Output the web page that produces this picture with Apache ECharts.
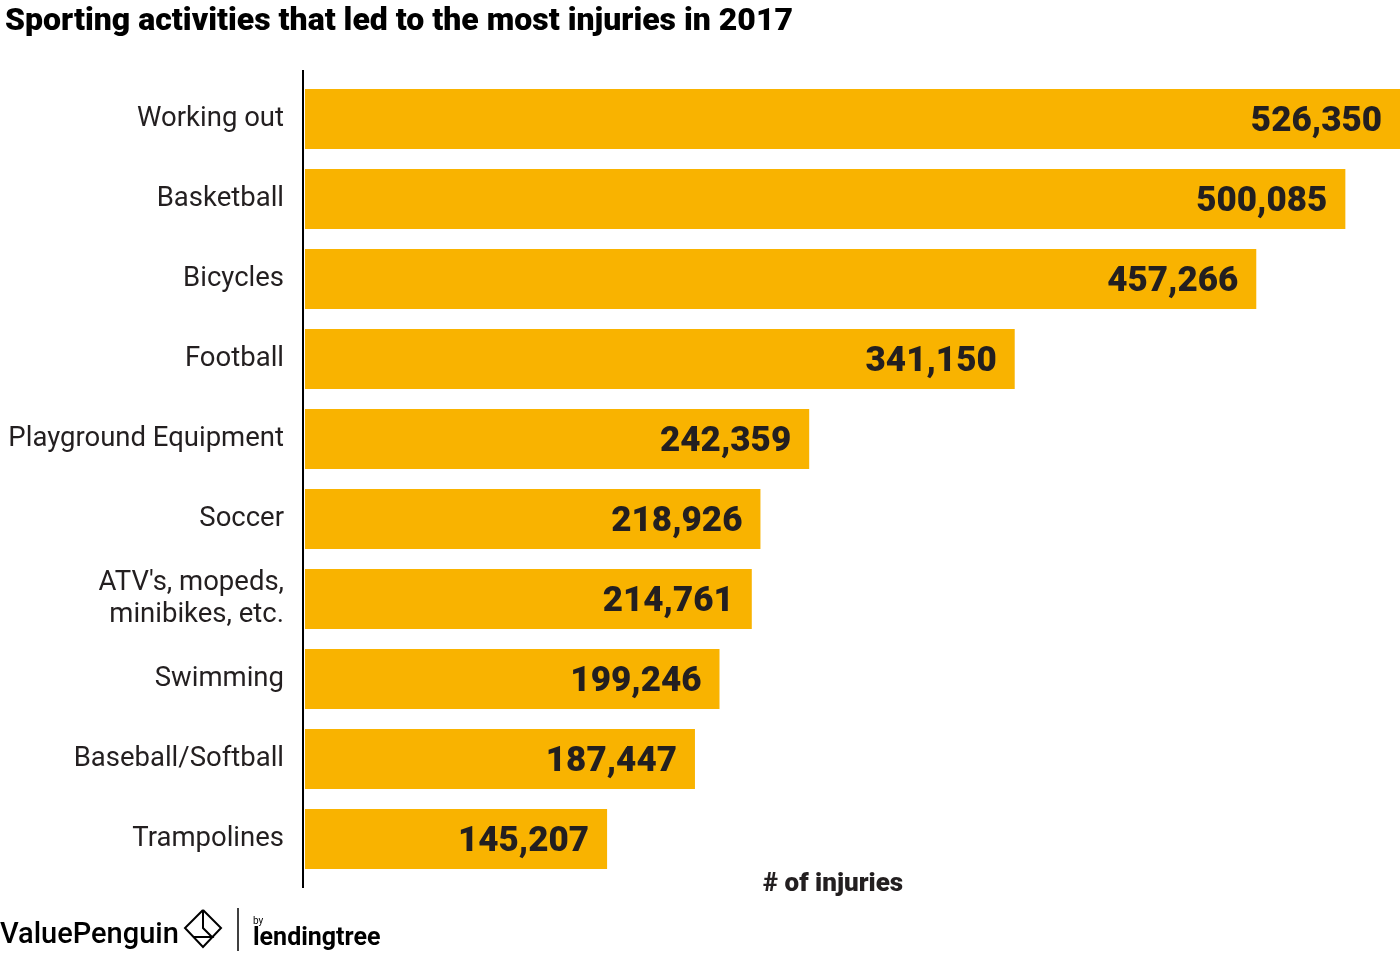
<!DOCTYPE html>
<html>
<head>
<meta charset="utf-8">
<script src="https://cdn.jsdelivr.net/npm/echarts@6/dist/echarts.min.js"></script>
<style>
  html, body { margin: 0; padding: 0; background: #fff; }
  #main { width: 1400px; height: 957px; }
</style>
</head>
<body>
<div id="main"></div>
<script>
// data
var categories = ['Working out', 'Basketball', 'Bicycles', 'Football', 'Playground Equipment',
  'Soccer', "ATV's, mopeds,\nminibikes, etc.", 'Swimming', 'Baseball/Softball', 'Trampolines'];
var injuries = [526350, 500085, 457266, 341150, 242359, 218926, 214761, 199246, 187447, 145207];

var barColor = '#F9B300';
var textColor = '#231F20';

var myChart = echarts.init(document.getElementById('main'));

var option = {
  animation: false,
  backgroundColor: '#fff',
  textStyle: { fontFamily: 'Roboto' },
  title: {
    text: 'Sporting activities that led to the most injuries in 2017',
    left: 0,
    top: 1,
    textStyle: { fontSize: 32, fontWeight: 900, color: '#000', fontFamily: 'Roboto' }
  },
  grid: { left: 305, right: 0, top: 79, height: 800, containLabel: false },
  xAxis: {
    type: 'value',
    min: 0,
    max: injuries[0],
    show: false
  },
  yAxis: {
    type: 'category',
    data: categories,
    inverse: true,
    axisLine: { show: false },
    axisTick: { show: false },
    axisLabel: {
      margin: 21,
      fontSize: 27.5,
      color: textColor,
      lineHeight: 32,
      padding: [0, 0, -4, 0],
      fontFamily: 'Roboto'
    }
  },
  series: [{
    type: 'bar',
    data: injuries,
    barWidth: 60,
    itemStyle: { color: barColor },
    label: {
      show: true,
      position: 'insideRight',
      distance: 18,
      offset: [0, 3],
      fontSize: 35,
      fontWeight: 900,
      color: textColor,
      fontFamily: 'Roboto',
      formatter: function (p) { return p.value.toLocaleString('en-US'); }
    }
  }],
  graphic: [
    // axis line, runs a bit past the bars at both ends
    { type: 'line', shape: { x1: 303, y1: 70, x2: 303, y2: 888 }, style: { stroke: '#000', lineWidth: 2 } },
    { type: 'text', left: 763, top: 871, style: { text: '# of injuries', fontSize: 26, fontWeight: 900, fill: textColor, fontFamily: 'Roboto' } },
    // footer logos
    { type: 'text', left: 0, top: 921, style: { text: 'ValuePenguin', fontSize: 29, fontWeight: 500, fill: '#000', fontFamily: 'Roboto' } },
    { type: 'polyline', shape: { points: [[203, 910], [185, 928], [203, 947], [221, 928], [203, 910]] }, style: { stroke: '#000', lineWidth: 2, fill: 'none' } },
    { type: 'polyline', shape: { points: [[203, 910], [203, 928], [212, 937], [194, 937]] }, style: { stroke: '#000', lineWidth: 2, fill: 'none' } },
    { type: 'line', shape: { x1: 238, y1: 908, x2: 238, y2: 951 }, style: { stroke: '#000', lineWidth: 1.5 } },
    { type: 'text', left: 253, top: 916, style: { text: 'by', fontSize: 10, fill: '#000', fontFamily: 'Roboto' } },
    { type: 'text', left: 253, top: 926, style: { text: 'lendingtree', fontSize: 25, fontWeight: 'bold', fill: '#000', fontFamily: 'Roboto' } }
  ]
};

myChart.setOption(option);
</script>
</body>
</html>
